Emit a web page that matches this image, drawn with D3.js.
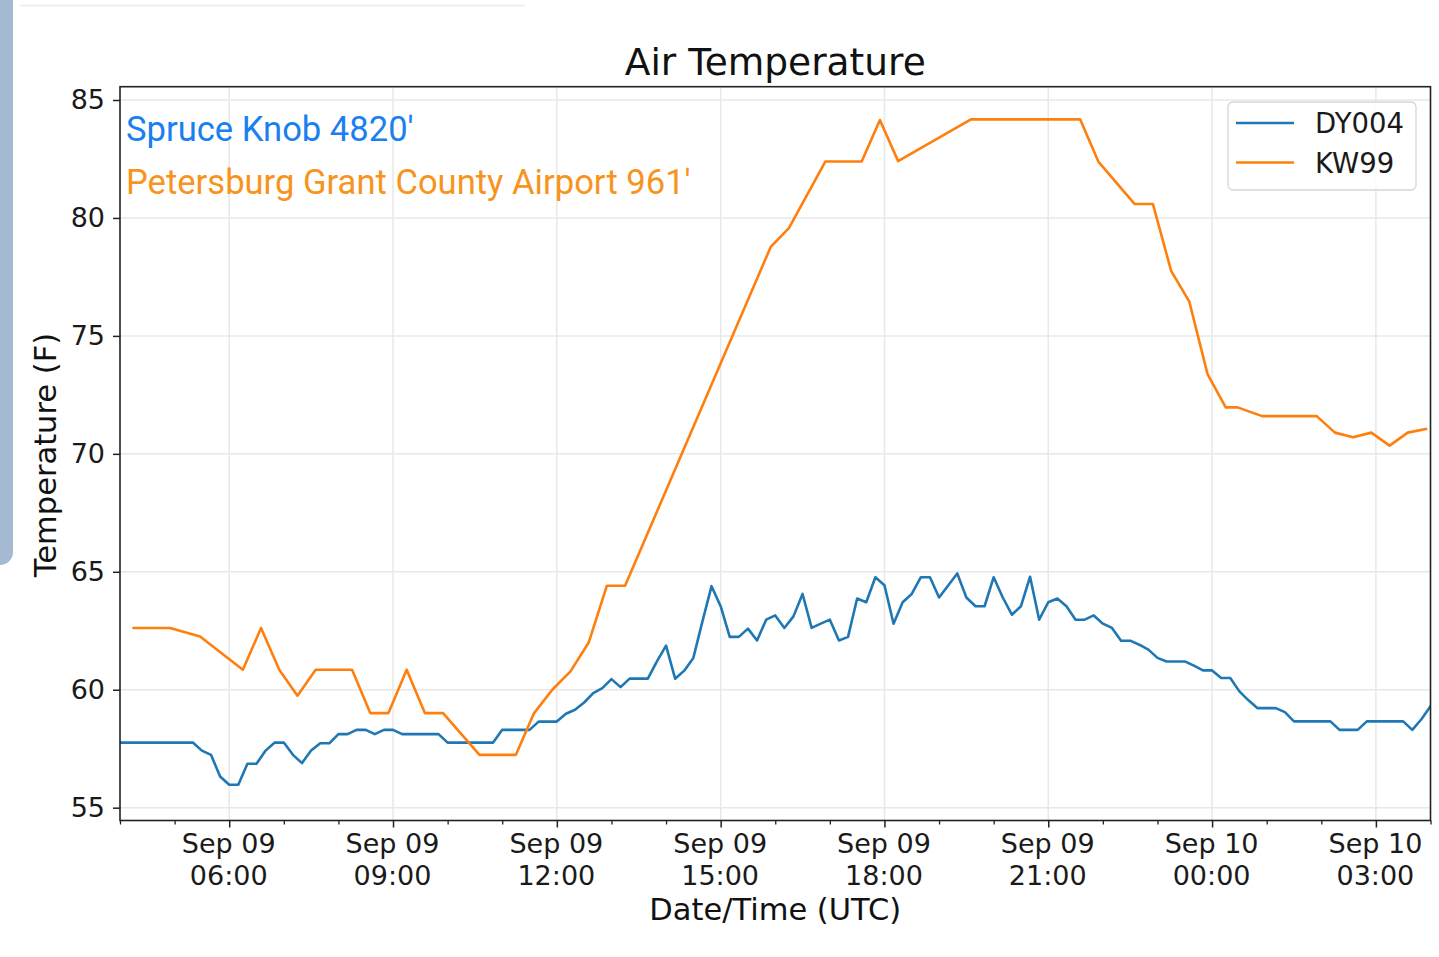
<!DOCTYPE html>
<html>
<head>
<meta charset="utf-8">
<script src="https://cdn.jsdelivr.net/npm/d3@7"></script>
<style>
  html, body { margin: 0; padding: 0; background: #fff; }
  svg { display: block; }
</style>
</head>
<body>
<svg id="chart" width="1439" height="957"></svg>
<script>
// ---------------- DATA ----------------
const chartTitle = "Air Temperature";
const xLabel = "Date/Time (UTC)";
const yLabel = "Temperature (F)";
const seriesNames = ["DY004", "KW99"];
const seriesColors = ["#1f77b4", "#ff7f0e"];
const annotations = ["Spruce Knob 4820'", "Petersburg Grant County Airport 961'"];
const annotationColors = ["#1a7ff0", "#f7941d"];
const yTicks = [55, 60, 65, 70, 75, 80, 85];
const xDomain = ["2019-09-09T04:00Z", "2019-09-10T04:00Z"];

// DY004: 10-minute observations starting 04:00 UTC
const dyStart = "2019-09-09T04:00Z";
const dyStepMinutes = 10;
const dyTemps = [
  57.76, 57.76, 57.76, 57.76, 57.76, 57.76, 57.76, 57.76, 57.76, 57.42,
  57.24, 56.32, 55.97, 55.97, 56.86, 56.86, 57.42, 57.76, 57.76, 57.24,
  56.89, 57.42, 57.73, 57.73, 58.12, 58.12, 58.30, 58.30, 58.12, 58.30,
  58.30, 58.12, 58.12, 58.12, 58.12, 58.12, 57.76, 57.76, 57.76, 57.76,
  57.76, 57.76, 58.30, 58.30, 58.30, 58.30, 58.65, 58.65, 58.65, 58.98,
  59.15, 59.46, 59.86, 60.07, 60.45, 60.11, 60.47, 60.47, 60.47, 61.20,
  61.87, 60.47, 60.81, 61.35, 62.90, 64.39, 63.54, 62.24, 62.24, 62.59,
  62.09, 62.97, 63.15, 62.62, 63.11, 64.06, 62.62, 62.80, 62.97, 62.09,
  62.24, 63.87, 63.71, 64.77, 64.43, 62.80, 63.71, 64.06, 64.77, 64.77,
  63.91, 64.42, 64.93, 63.91, 63.54, 63.54, 64.77, 63.91, 63.18, 63.54,
  64.79, 62.97, 63.71, 63.87, 63.54, 62.97, 62.97, 63.15, 62.80, 62.62,
  62.08, 62.08, 61.91, 61.70, 61.35, 61.20, 61.20, 61.20, 61.02, 60.82,
  60.82, 60.50, 60.50, 59.93, 59.55, 59.22, 59.22, 59.22, 59.05, 58.66,
  58.66, 58.66, 58.66, 58.66, 58.30, 58.30, 58.30, 58.66, 58.66, 58.66,
  58.66, 58.66, 58.30, 58.75, 59.30
];

// KW99: irregular observations
const kwTimes = [
  "2019-09-09T04:15Z", "2019-09-09T04:35Z", "2019-09-09T04:55Z", "2019-09-09T05:28Z",
  "2019-09-09T06:15Z", "2019-09-09T06:35Z", "2019-09-09T06:55Z", "2019-09-09T07:15Z",
  "2019-09-09T07:35Z", "2019-09-09T07:55Z", "2019-09-09T08:15Z", "2019-09-09T08:35Z",
  "2019-09-09T08:55Z", "2019-09-09T09:15Z", "2019-09-09T09:35Z", "2019-09-09T09:55Z",
  "2019-09-09T10:35Z", "2019-09-09T10:55Z", "2019-09-09T11:15Z", "2019-09-09T11:35Z",
  "2019-09-09T11:55Z", "2019-09-09T12:15Z", "2019-09-09T12:35Z", "2019-09-09T12:55Z",
  "2019-09-09T13:15Z", "2019-09-09T15:55Z", "2019-09-09T16:15Z", "2019-09-09T16:55Z",
  "2019-09-09T17:15Z", "2019-09-09T17:35Z", "2019-09-09T17:55Z", "2019-09-09T18:15Z",
  "2019-09-09T19:35Z", "2019-09-09T21:35Z", "2019-09-09T21:55Z", "2019-09-09T22:35Z",
  "2019-09-09T22:55Z", "2019-09-09T23:15Z", "2019-09-09T23:35Z", "2019-09-09T23:55Z",
  "2019-09-10T00:15Z", "2019-09-10T00:28Z", "2019-09-10T00:55Z", "2019-09-10T01:55Z",
  "2019-09-10T02:15Z", "2019-09-10T02:35Z", "2019-09-10T02:55Z", "2019-09-10T03:15Z",
  "2019-09-10T03:35Z", "2019-09-10T03:55Z"
];
const kwTemps = [
  62.62, 62.62, 62.62, 62.26,
  60.85, 62.62, 60.85, 59.75,
  60.85, 60.85, 60.85, 59.01,
  59.01, 60.85, 59.01, 59.01,
  57.24, 57.24, 57.24, 59.01,
  60.00, 60.78, 62.00, 64.41,
  64.41, 78.77, 79.57, 82.39,
  82.39, 82.39, 84.15, 82.41,
  84.18, 84.18, 82.39, 80.59,
  80.59, 77.76, 76.45, 73.38,
  71.97, 71.97, 71.60, 71.60,
  70.90, 70.70, 70.90, 70.35,
  70.90, 71.05
];

// ---------------- LAYOUT ----------------
const M = { left: 120, right: 1430.5, top: 86.7, bottom: 820.5 };
const axisFont = "'DejaVu Sans', sans-serif";

const svg = d3.select("#chart");

// screenshot decorations
svg.append("rect").attr("x", -14).attr("y", -14).attr("width", 27).attr("height", 579)
  .attr("rx", 13).attr("fill", "#a3bad2");
svg.append("line").attr("x1", 20).attr("x2", 525).attr("y1", 5.5).attr("y2", 5.5)
  .attr("stroke", "#ececec").attr("stroke-width", 1.5);

const x = d3.scaleUtc().domain(xDomain.map(d => new Date(d))).range([M.left, M.right]);
const y = d3.scaleLinear().domain([54.457, 85.564]).range([M.bottom, M.top]);

const dyStartDate = new Date(dyStart);
const dyData = dyTemps.map((v, i) => ({ t: new Date(dyStartDate.getTime() + i * dyStepMinutes * 60000), v }));
const kwData = kwTimes.map((t, i) => ({ t: new Date(t), v: kwTemps[i] }));

const majorTicks = d3.utcHour.every(3).range(x.domain()[0], new Date(x.domain()[1].getTime() + 1))
  .filter(d => d.getUTCHours() % 3 === 0 && d > x.domain()[0]);
const minorTicks = d3.utcHour.range(x.domain()[0], new Date(x.domain()[1].getTime() + 1));

// grid
const grid = svg.append("g");
grid.selectAll(".gx").data(majorTicks).join("line")
  .attr("x1", d => x(d)).attr("x2", d => x(d))
  .attr("y1", M.top).attr("y2", M.bottom)
  .attr("stroke", "#e8e8e8").attr("stroke-width", 1.5);
grid.selectAll(".gy").data(yTicks).join("line")
  .attr("x1", M.left).attr("x2", M.right)
  .attr("y1", d => y(d)).attr("y2", d => y(d))
  .attr("stroke", "#e8e8e8").attr("stroke-width", 1.5);

// clip
svg.append("clipPath").attr("id", "clip").append("rect")
  .attr("x", M.left).attr("y", M.top).attr("width", M.right - M.left).attr("height", M.bottom - M.top);

const line = d3.line().x(d => x(d.t)).y(d => y(d.v));
const plot = svg.append("g").attr("clip-path", "url(#clip)");
plot.append("path").datum(dyData).attr("d", line)
  .attr("fill", "none").attr("stroke", seriesColors[0]).attr("stroke-width", 2.6)
  .attr("stroke-linejoin", "round").attr("stroke-linecap", "square");
plot.append("path").datum(kwData).attr("d", line)
  .attr("fill", "none").attr("stroke", seriesColors[1]).attr("stroke-width", 2.6)
  .attr("stroke-linejoin", "round").attr("stroke-linecap", "square");

// axes
const fmtDay = d3.utcFormat("%b %d");
const fmtHour = d3.utcFormat("%H:%M");

const xAxis = svg.append("g").attr("transform", `translate(0,${M.bottom})`)
  .call(d3.axisBottom(x).tickValues(majorTicks).tickSize(7).tickSizeOuter(0).tickPadding(6).tickFormat(""));
xAxis.select(".domain").remove();
xAxis.selectAll(".tick line").attr("stroke", "#222").attr("stroke-width", 1.5);
xAxis.selectAll(".tick text").remove();
xAxis.selectAll(".tick").append("text")
  .attr("fill", "#1a1a1a").attr("font-family", axisFont).attr("font-size", 27)
  .attr("text-anchor", "middle")
  .call(t => t.append("tspan").attr("x", -1).attr("y", 32.2).text(d => fmtDay(d)))
  .call(t => t.append("tspan").attr("x", -1).attr("y", 64.5).text(d => fmtHour(d)));

const xMinor = svg.append("g").attr("transform", `translate(0,${M.bottom})`)
  .call(d3.axisBottom(x).tickValues(minorTicks.filter(d => d.getUTCHours() % 3 !== 0)).tickSize(4).tickFormat(""));
xMinor.select(".domain").remove();
xMinor.selectAll(".tick line").attr("stroke", "#222").attr("stroke-width", 1.3);

const yAxis = svg.append("g").attr("transform", `translate(${M.left},0)`)
  .call(d3.axisLeft(y).tickValues(yTicks).tickSize(7).tickPadding(8).tickFormat(d3.format("d")));
yAxis.select(".domain").remove();
yAxis.selectAll(".tick line").attr("stroke", "#222").attr("stroke-width", 1.5);
yAxis.selectAll(".tick text").attr("fill", "#1a1a1a").attr("font-family", axisFont).attr("font-size", 27);

// frame
svg.append("rect").attr("x", M.left).attr("y", M.top)
  .attr("width", M.right - M.left).attr("height", M.bottom - M.top)
  .attr("fill", "none").attr("stroke", "#222").attr("stroke-width", 1.6);

// labels
svg.append("text").attr("x", (M.left + M.right) / 2).attr("y", 75)
  .attr("text-anchor", "middle").attr("font-family", axisFont).attr("font-size", 37.5)
  .attr("fill", "#111").text(chartTitle);
svg.append("text").attr("x", (M.left + M.right) / 2).attr("y", 920)
  .attr("text-anchor", "middle").attr("font-family", axisFont).attr("font-size", 30.5)
  .attr("fill", "#111").text(xLabel);
svg.append("text").attr("transform", "translate(56,455) rotate(-90)")
  .attr("text-anchor", "middle").attr("font-family", axisFont).attr("font-size", 30.5)
  .attr("fill", "#111").text(yLabel);

// annotations
svg.selectAll(".ann").data(annotations).join("text")
  .attr("x", 126).attr("y", (d, i) => 141 + i * 53)
  .attr("font-family", "Roboto, sans-serif").attr("font-size", 34.6)
  .attr("fill", (d, i) => annotationColors[i]).text(d => d);

// legend
const lg = svg.append("g");
lg.append("rect").attr("x", 1228).attr("y", 102).attr("width", 188).attr("height", 88)
  .attr("rx", 5).attr("fill", "#fff").attr("fill-opacity", 0.85)
  .attr("stroke", "#d6d6d6").attr("stroke-width", 1.3);
seriesNames.forEach((name, i) => {
  const yy = 123 + i * 39.5;
  lg.append("line").attr("x1", 1236).attr("x2", 1294).attr("y1", yy).attr("y2", yy)
    .attr("stroke", seriesColors[i]).attr("stroke-width", 2.6);
  lg.append("text").attr("x", 1315).attr("y", yy + 10)
    .attr("font-family", axisFont).attr("font-size", 27.5).attr("fill", "#1a1a1a").text(name);
});
</script>
</body>
</html>
